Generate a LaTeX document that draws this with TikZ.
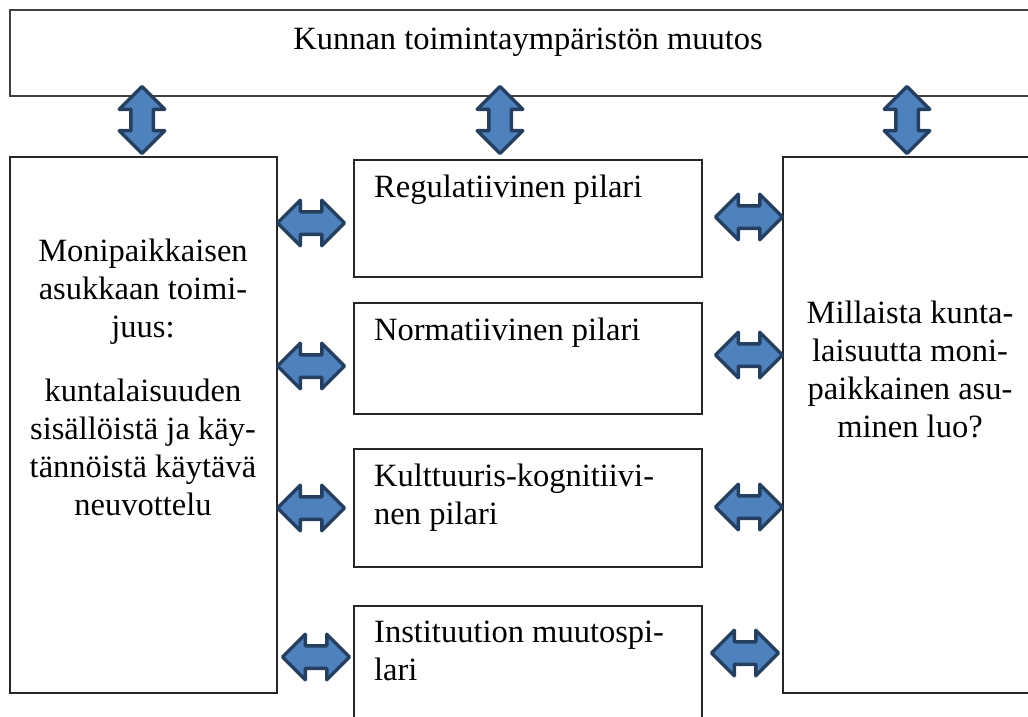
\documentclass[tikz,border=0pt]{standalone}
\usepackage{fontspec}
\setmainfont{Liberation Serif}
\usetikzlibrary{shapes.arrows}
\definecolor{ArrowFill}{HTML}{4F81BD}
\definecolor{ArrowLine}{HTML}{243F60}

\begin{document}
\begin{tikzpicture}[
  x=1pt,y=1pt,
  txt/.style={inner sep=0pt,font=\fontsize{32.5pt}{38pt}\selectfont},
  frame/.style={draw=black!85,line width=1.2pt,inner sep=0pt},
  hdarrow/.style={double arrow,double arrow tip angle=90,double arrow head extend=11.5pt,inner sep=9.5pt,minimum height=67pt,fill=ArrowFill,draw=ArrowLine,line width=3.5pt,line join=round},
  vdarrow/.style={hdarrow,shape border rotate=90}
]
\useasboundingbox (0,0) rectangle (1028,-717);
\clip (0,0) rectangle (1028,-717);
% boxes
\node[frame,draw=black!75,line width=2pt,minimum width=1030pt,minimum height=86pt] (env) at (525,-53) {};
\node[frame,minimum width=267pt,minimum height=536pt] (actor) at (143.5,-425) {};
\node[frame,minimum width=267pt,minimum height=536pt] (result) at (916.5,-425) {};
\node[frame,minimum width=348pt,minimum height=117pt] (reg) at (528,-218.5) {};
\node[frame,minimum width=348pt,minimum height=111pt] (norm) at (528,-358.5) {};
\node[frame,minimum width=348pt,minimum height=118pt] (cult) at (528,-508) {};
\node[frame,minimum width=348pt,minimum height=154pt] (change) at (528,-683) {};
% texts (base = last line)
\node[txt,anchor=base] (envtxt) at (528,-50) {Kunnan toimintaympäristön muutos};
\node[txt,anchor=base,align=center] (actortxt) at (143,-515) {Monipaikkaisen\\asukkaan toimi-\\juus:\\[26pt]kuntalaisuuden\\sisällöistä ja käy-\\tännöistä käytävä\\neuvottelu};
\node[txt,anchor=base,align=center] (resulttxt) at (910,-437) {Millaista kunta-\\laisuutta moni-\\paikkainen asu-\\minen luo?};
\node[txt,anchor=base west] (regtxt) at (374,-197) {Regulatiivinen pilari};
\node[txt,anchor=base west] (normtxt) at (374,-340) {Normatiivinen pilari};
\node[txt,anchor=base west,align=left] (culttxt) at (374,-524) {Kulttuuris-kognitiivi-\\nen pilari};
\node[txt,anchor=base west,align=left] (changetxt) at (374,-680) {Instituution muutospi-\\lari};
% vertical arrows
\node[vdarrow] (v1) at (142,-120) {};
\node[vdarrow] (v2) at (500,-120) {};
\node[vdarrow] (v3) at (907,-120) {};
% horizontal arrows
\node[hdarrow] (l1) at (311,-223) {};
\node[hdarrow] (l2) at (311,-366) {};
\node[hdarrow] (l3) at (311,-508) {};
\node[hdarrow] (l4) at (316,-657) {};
\node[hdarrow] (r1) at (749,-217) {};
\node[hdarrow] (r2) at (749,-355) {};
\node[hdarrow] (r3) at (749,-507) {};
\node[hdarrow] (r4) at (745,-653) {};
\end{tikzpicture}
\end{document}
